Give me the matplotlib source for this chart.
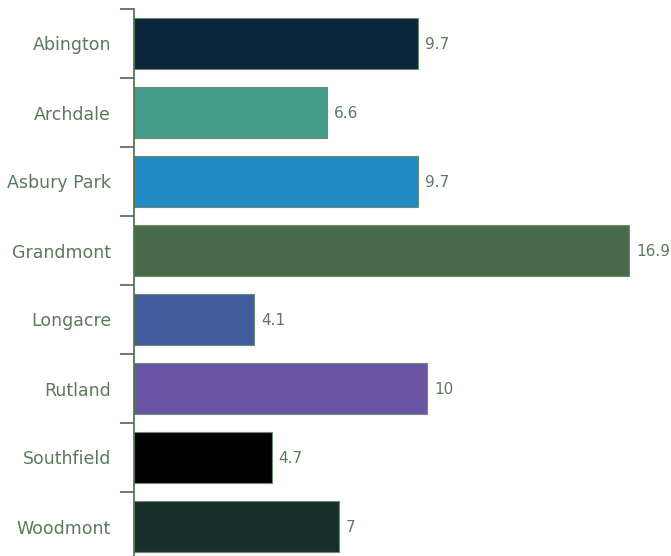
import matplotlib
matplotlib.use('Agg')
import matplotlib.pyplot as plt
import numpy as np

plt.rcParams['font.family'] = ['DejaVu Sans']

names = ['Abington', 'Archdale', 'Asbury Park', 'Grandmont', 'Longacre', 'Rutland', 'Southfield', 'Woodmont']
values = [9.7, 6.6, 9.7, 16.9, 4.1, 10, 4.7, 7]
labels = ['9.7', '6.6', '9.7', '16.9', '4.1', '10', '4.7', '7']
colors = ['#0b263b', '#459c8a', '#228bc6', '#4a6b49', '#3f5b9a', '#6a55a5', '#000000', '#172f2b']

text_col = '#5b7a5b'
axis_col = '#4a6b49'

fig = plt.figure(figsize=(6.71, 5.56), dpi=100)
ax = fig.add_axes([134 / 671, -5 / 556, 1 - 134 / 671, 552 / 556])

y = np.arange(len(names))
ax.barh(y, values, height=0.74, color=colors, edgecolor='#6f8a73', linewidth=0.8)
for yi, v, lab in zip(y, values, labels):
    ax.text(v + 0.24, yi + 0.02, lab, va='center', ha='left', fontsize=11, color=text_col)

ax.set_ylim(len(names) - 0.5, -0.5)
ax.set_xlim(0, (671 - 134) / 29.29)
ax.set_yticks(y)
ax.set_yticklabels(names, fontsize=12.5, color=text_col)
ax.tick_params(axis='y', length=0, pad=16.5)
ax.set_yticks(np.arange(len(names)) - 0.5, minor=True)
ax.tick_params(axis='y', which='minor', length=10, color=axis_col, width=1.2)
ax.set_xticks([])
for s in ['top', 'right', 'bottom']:
    ax.spines[s].set_visible(False)
ax.spines['left'].set_color(axis_col)
ax.spines['left'].set_linewidth(1.2)

fig.savefig('out.png', dpi=100)
